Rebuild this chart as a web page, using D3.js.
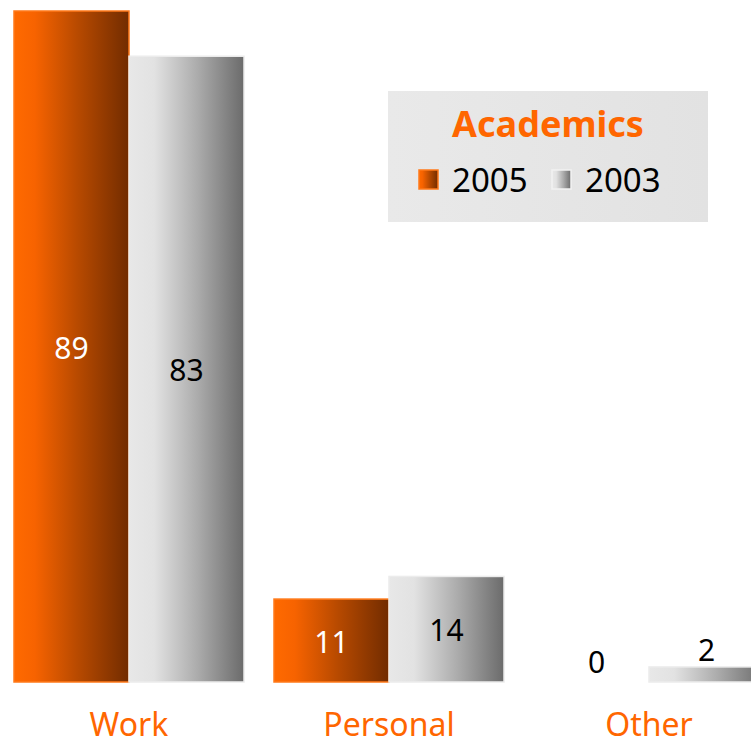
<!DOCTYPE html>
<html><head><meta charset="utf-8">
<script src="https://cdn.jsdelivr.net/npm/d3@7"></script>
<style>body{margin:0;background:#fff}svg{display:block}</style>
</head><body>
<script>
const categories = ["Work", "Personal", "Other"];
const seriesNames = ["2005", "2003"];
const values2005 = [89, 11, 0];
const values2003 = [83, 14, 2];
const legendTitle = "Academics";

const W = 751, H = 747;
const svg = d3.select("body").append("svg").attr("width", W).attr("height", H);
const defs = svg.append("defs");
function grad(id, stops){
  const g = defs.append("linearGradient").attr("id", id).attr("x1","0%").attr("x2","100%").attr("y1","0%").attr("y2","0%");
  stops.forEach(s => g.append("stop").attr("offset", s[0]).attr("stop-color", s[1]));
}
grad("g2005", [["0%","#ff6a00"],["18%","#f76300"],["55%","#b84a00"],["100%","#722c00"]]);
grad("g2003", [["0%","#e8e8e8"],["22%","#e2e2e2"],["60%","#ababab"],["100%","#6b6b6b"]]);
grad("gbox", [["0%","#e9e9e9"],["100%","#e2e2e2"]]);

const font = "'Noto Sans', 'Open Sans', sans-serif";
const baseline = 682;
const y = d3.scaleLinear().domain([0, 89]).range([baseline, 11]);
const xc = d3.scalePoint().domain(categories).range([129, 649]);
const x1 = d3.scaleBand().domain(seriesNames).range([-115, 115]);

const data = categories.map((c, i) => ({cat: c, vals: [
  {s: "2005", v: values2005[i]}, {s: "2003", v: values2003[i]}
]}));

const g = svg.append("g");
const groups = g.selectAll("g.grp").data(data).join("g").attr("class","grp")
  .attr("transform", d => `translate(${xc(d.cat)},0)`);

groups.selectAll("rect").data(d => d.vals.filter(e => e.v > 0)).join("rect")
  .attr("x", d => x1(d.s)).attr("width", x1.bandwidth())
  .attr("y", d => y(d.v)).attr("height", d => baseline - y(d.v))
  .attr("fill", d => d.s === "2005" ? "url(#g2005)" : "url(#g2003)")
  .attr("stroke", d => d.s === "2005" ? "#ff7a1a" : "#ececec")
  .attr("stroke-width", 1.5);

groups.selectAll("text.val").data(d => d.vals).join("text").attr("class","val")
  .attr("x", d => x1(d.s) + x1.bandwidth()/2 + (d.v === 0 ? 5 : 0))
  .attr("y", d => d.v >= 5 ? (y(d.v) + baseline)/2 + 12 : y(d.v) - (d.v === 0 ? 9 : 6))
  .attr("text-anchor","middle")
  .attr("font-family", font).attr("font-size", 30)
  .attr("fill", d => (d.s === "2005" && d.v >= 5) ? "#ffffff" : "#000000")
  .text(d => d.v);

g.selectAll("text.cat").data(categories).join("text").attr("class","cat")
  .attr("x", d => xc(d)).attr("y", 736)
  .attr("text-anchor","middle")
  .attr("font-family", font).attr("font-size", 32)
  .attr("fill", "#ff6600")
  .text(d => d);

// legend
const lg = svg.append("g").attr("transform","translate(388,91)");
lg.append("rect").attr("width", 320).attr("height", 131).attr("fill","url(#gbox)");
lg.append("text").attr("x", 160).attr("y", 46).attr("text-anchor","middle")
  .attr("font-family", font).attr("font-weight","bold").attr("font-size", 36)
  .attr("fill","#ff6600").text(legendTitle);
const items = [{s:"2005", x:31}, {s:"2003", x:164}];
items.forEach(it => {
  lg.append("rect").attr("x", it.x).attr("y", 79).attr("width", 19).attr("height", 19)
    .attr("fill", it.s === "2005" ? "url(#g2005)" : "url(#g2003)")
    .attr("stroke", it.s === "2005" ? "#ff7a1a" : "#f2f2f2").attr("stroke-width", 1.5);
  lg.append("text").attr("x", it.x + 33).attr("y", 101)
    .attr("font-family", font).attr("font-size", 33).attr("fill","#000").text(it.s);
});
</script>
</body></html>
